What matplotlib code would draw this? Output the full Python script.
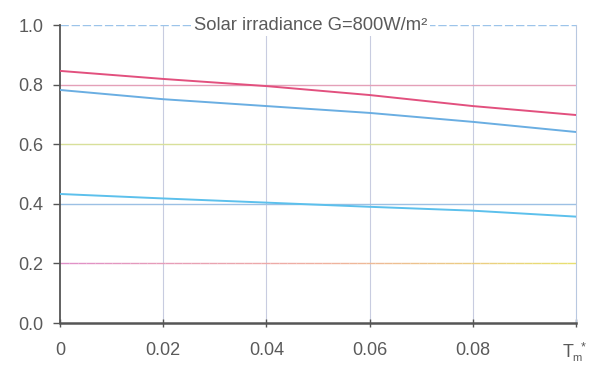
import numpy as np
import matplotlib
matplotlib.use("Agg")
import matplotlib.pyplot as plt
from matplotlib.collections import LineCollection
from matplotlib.colors import LinearSegmentedColormap

# ---- data ----
tm = [0, 0.02, 0.04, 0.06, 0.08, 0.10]
eff_pink = [0.846, 0.819, 0.795, 0.765, 0.728, 0.698]
eff_blue_upper = [0.782, 0.751, 0.728, 0.705, 0.675, 0.641]
eff_blue_lower = [0.433, 0.418, 0.404, 0.390, 0.377, 0.357]
xtick_vals = [0, 0.02, 0.04, 0.06, 0.08, 0.10]
xtick_labels = ["0", "0.02", "0.04", "0.06", "0.08", ""]
xaxis_symbol = "T"
xaxis_sub = "m"
xaxis_sup = "*"
ytick_vals = [0.0, 0.2, 0.4, 0.6, 0.8, 1.0]
ytick_labels = ["0.0", "0.2", "0.4", "0.6", "0.8", "1.0"]
title = "Solar irradiance G=800W/m²"

plt.rcParams['font.family'] = ['Liberation Sans', 'DejaVu Sans']

fig = plt.figure(figsize=(5.96, 3.65), dpi=100)
ax = fig.add_axes([0.1007, 0.115, 0.8657, 0.8165])
ax.set_xlim(0, 0.10)
ax.set_ylim(0, 1.0)

# colored horizontal gridlines
ax.axhline(1.0, color="#9cc4ea", lw=1.0, ls=(0, (6, 2)), zorder=1)
ax.axhline(0.8, color="#e4a0b8", lw=1.0, zorder=1)
ax.axhline(0.6, color="#d8e09a", lw=1.0, zorder=1)
ax.axhline(0.4, color="#9cc0e4", lw=1.0, zorder=1)
# 0.2 gridline: pink to yellow gradient
gx = np.linspace(0, 0.10, 60)
segs = [[(gx[i], 0.2), (gx[i + 1], 0.2)] for i in range(len(gx) - 1)]
cmap = LinearSegmentedColormap.from_list("py", ["#e090c8", "#f0b0a0", "#e8e070"])
lc = LineCollection(segs, colors=[cmap(i / (len(segs) - 1)) for i in range(len(segs))], lw=1.0, zorder=1)
ax.add_collection(lc)
for xv in xtick_vals[1:-1]:
    ax.axvline(xv, color="#c8cce0", lw=0.8, zorder=0)

# data lines
ax.plot(tm, eff_pink, color="#e2507e", lw=1.4, zorder=3)
ax.plot(tm, eff_blue_upper, color="#6aaee2", lw=1.4, zorder=3)
ax.plot(tm, eff_blue_lower, color="#5cc0ec", lw=1.4, zorder=3)

# spines
ax.spines["top"].set_visible(False)
ax.spines["right"].set_color("#b8c8e0")
ax.spines["right"].set_linewidth(0.8)
ax.spines["left"].set_color("#555555")
ax.spines["left"].set_linewidth(1.3)
ax.spines["bottom"].set_color("#555555")
ax.spines["bottom"].set_linewidth(1.8)

ax.set_xticks(xtick_vals)
ax.set_xticklabels(xtick_labels)
ax.set_yticks(ytick_vals)
ax.set_yticklabels(ytick_labels)
ax.tick_params(axis="y", direction="out", length=5, width=1, color="#555555",
               labelsize=13, labelcolor="#5a5a5a", pad=7)
ax.tick_params(axis="x", direction="inout", length=6, width=1, color="#555555",
               labelsize=13, labelcolor="#5a5a5a", pad=11)

# T_m* label at the last x tick
tc = "#5a5a5a"
ax.annotate(xaxis_symbol, xy=(0.10, 0), xycoords="data", xytext=(-6, -24.5),
            textcoords="offset points", ha="center", va="baseline",
            fontsize=13, color=tc, annotation_clip=False)
ax.annotate(xaxis_sub, xy=(0.10, 0), xycoords="data", xytext=(0.5, -27.5),
            textcoords="offset points", ha="center", va="baseline",
            fontsize=8, color=tc, annotation_clip=False)
ax.annotate(xaxis_sup, xy=(0.10, 0), xycoords="data", xytext=(5, -13.5),
            textcoords="offset points", ha="center", va="top",
            fontsize=9, color=tc, annotation_clip=False)

ax.text(0.0485, 1.0, title, ha="center", va="center", fontsize=13.2, color="#5a5a5a",
        bbox=dict(facecolor="white", edgecolor="none", pad=2), zorder=5,
        clip_on=False)

fig.savefig("out.png", dpi=100)
